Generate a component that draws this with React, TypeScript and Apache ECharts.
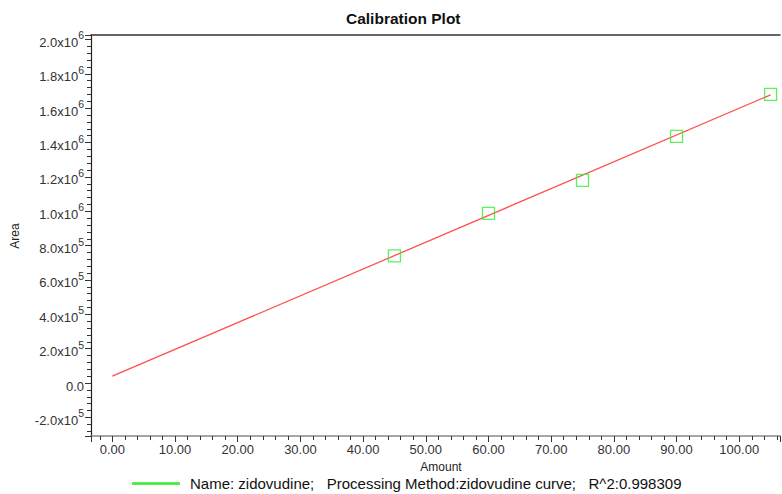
import React, { useEffect, useRef } from "react";
import * as echarts from "echarts";

const FONT = "'Liberation Sans', Arial, sans-serif";

// Calibration standards (Amount, Area)
const amounts = [45, 60, 75, 90, 105];
const areas = [740000, 988000, 1180000, 1436000, 1680000];

// Fitted calibration line end points (Amount, Area)
const fitAmounts = [0, 105];
const fitAreas = [40000, 1678000];

const legendName =
  "Name: zidovudine;   Processing Method:zidovudine curve;   R^2:0.998309";

function fmtY(v: number): string {
  if (Math.abs(v) < 1e-9) return "{a|0.0}";
  const exp = Math.floor(Math.log10(Math.abs(v)) + 1e-9);
  const m = v / Math.pow(10, exp);
  return `{a|${m.toFixed(1)}x10}{s|${exp}}`;
}

export default function App() {
  const ref = useRef<HTMLDivElement>(null);
  useEffect(() => {
    if (!ref.current) return;
    const chart = echarts.init(ref.current, null, { renderer: "svg" });
    const xMin = -3.4;
    const xMax = 106.5;
    chart.setOption({
      animation: false,
      backgroundColor: "#ffffff",
      textStyle: { fontFamily: FONT },
      grid: { left: 91, right: 2, top: 35, bottom: 58, containLabel: false },
      graphic: [
        {
          type: "text",
          left: 406 - 60,
          top: 10,
          style: {
            text: "Calibration Plot",
            font: `bold 15.5px ${FONT}`,
            fill: "#111",
          },
        },
        {
          type: "text",
          x: 441,
          y: 467,
          style: {
            text: "Amount",
            font: `12px ${FONT}`,
            fill: "#222",
            align: "center",
            verticalAlign: "middle",
          },
        },
        {
          type: "text",
          x: 15,
          y: 236,
          rotation: Math.PI / 2,
          style: {
            text: "Area",
            font: `12px ${FONT}`,
            fill: "#222",
            align: "center",
            verticalAlign: "middle",
          },
        },
      ],
      legend: {
        data: [{ name: legendName, icon: "rect", itemStyle: { color: "#33ee33" } }],
        left: 127,
        top: 471,
        itemWidth: 46,
        itemHeight: 1,
        padding: 5,
        textStyle: {
          fontSize: 15,
          lineHeight: 14,
          color: "#111",
          fontFamily: FONT,
          padding: [0, 0, 0, 6],
        },
      },
      xAxis: [
        {
          type: "value",
          min: xMin,
          max: xMax,
          splitNumber: 11,
          splitLine: { show: false },
          axisLine: { onZero: false, lineStyle: { color: "#888", width: 1.5 } },
          axisTick: { length: 6, lineStyle: { color: "#333" } },
          minorTick: { show: true, splitNumber: 5, length: 4, lineStyle: { color: "#333" } },
          axisLabel: {
            margin: 7,
            fontSize: 13,
            color: "#333",
            fontFamily: FONT,
            showMinLabel: false,
            showMaxLabel: false,
            formatter: (v: number) => v.toFixed(2),
          },
        },
        {
          type: "value",
          position: "top",
          min: xMin,
          max: xMax,
          axisLine: { show: true, onZero: false, lineStyle: { color: "#333", width: 1.5 } },
          axisTick: { show: false },
          axisLabel: { show: false },
          splitLine: { show: false },
        },
      ],
      yAxis: {
        type: "value",
        min: -308000,
        max: 2026000,
        splitNumber: 12,
        splitLine: { show: false },
        axisLine: { show: true, onZero: false, lineStyle: { color: "#222", width: 1.2 } },
        axisTick: { length: 6, lineStyle: { color: "#333" } },
        minorTick: { show: true, splitNumber: 5, length: 4, lineStyle: { color: "#333" } },
        axisLabel: {
          margin: 7,
          color: "#333",
          showMinLabel: false,
          showMaxLabel: false,
          formatter: fmtY,
          rich: {
            a: {
              fontSize: 13,
              color: "#333",
              fontFamily: FONT,
              lineHeight: 19,
              verticalAlign: "bottom",
            },
            s: {
              fontSize: 10.5,
              color: "#333",
              fontFamily: FONT,
              lineHeight: 13,
              verticalAlign: "top",
            },
          },
        },
      },
      series: [
        {
          name: "fit",
          type: "line",
          data: fitAmounts.map((x, i) => [x, fitAreas[i]]),
          showSymbol: false,
          symbol: "none",
          lineStyle: { color: "#ff5050", width: 1.3 },
          silent: true,
          z: 2,
        },
        {
          name: legendName,
          type: "scatter",
          data: amounts.map((x, i) => [x, areas[i]]),
          symbol: "rect",
          symbolSize: 12,
          itemStyle: { color: "rgba(255,255,255,0)", borderColor: "#33ee33", borderWidth: 1.3 },
          z: 3,
        },
      ],
    });
    return () => chart.dispose();
  }, []);
  return <div ref={ref} style={{ width: 782, height: 494, position: "absolute", left: 0, top: 0 }} />;
}
